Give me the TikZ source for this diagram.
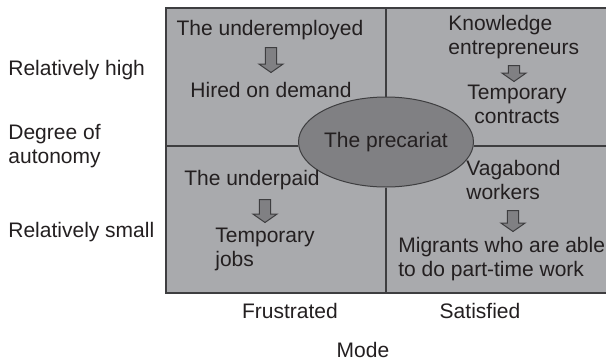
\documentclass[tikz,border=0pt]{standalone}
\usepackage{fontspec}
\setmainfont{Liberation Sans}
\usetikzlibrary{shapes.geometric, shapes.arrows}
\definecolor{cellgray}{RGB}{169,170,173}
\definecolor{coregray}{RGB}{128,128,131}
\definecolor{inkgray}{RGB}{35,31,32}
\definecolor{linegray}{RGB}{62,62,64}
\tikzset {
    every node/.style={text=inkgray, inner sep=0pt, font=\fontsize{10.5}{12}\selectfont},
    txt/.style={align=left, anchor=north west},
    downarrow/.style={single arrow, rotate=-90, anchor=tail, draw=linegray, line width=0.5pt,
        fill=coregray, inner xsep=0pt, inner ysep=2.6pt, single arrow head extend=3.2pt,
        single arrow tip angle=110},
    core/.style={ellipse, draw=linegray, line width=0.5pt, fill=coregray,
        minimum width=73pt, minimum height=45pt},
    grid/.style={draw=linegray, line width=0.6pt}
}

\begin{document}
\begin{tikzpicture}[x=0.5pt, y=-0.5pt]
                        \useasboundingbox (0,0) rectangle (606,360);
                        \fill[cellgray] (166,8) rectangle (606,293);

                        \coordinate (nw) at (166,8);
                        \coordinate (ne) at (606,8);
                        \coordinate (sw) at (166,293);
                        \coordinate (se) at (606,293);
                        \coordinate (n) at (386,8);
                        \coordinate (s) at (386,293);
                        \coordinate (w) at (166,146);
                        \coordinate (e) at (606,146);

                        \node[core] (prec) at (386,142) {The precariat};

                        \draw[grid] (n) -- (prec) (prec) -- (s);
                        \draw[grid] (w) -- (w -| prec.west) (e -| prec.east) -- (e);
                        \draw[grid, line width=0.9pt] (ne) -- (nw) -- (sw) -- (se);

                        % quadrants
                        \node[anchor=base] (under) at (270,35) {The underemployed};
                        \node[anchor=base] (hired) at (271,97) {Hired on demand};
                        \node[txt] (know) at (448,15) {Knowledge\\entrepreneurs};
                        \node[align=center, anchor=north] (tempc) at (517,85) {Temporary\\contracts};
                        \node[anchor=base] (underp) at (252,185) {The underpaid};
                        \node[txt] (tempj) at (215,228) {Temporary\\jobs};
                        \node[txt] (vaga) at (466,160) {Vagabond\\workers};
                        \node[txt] (migr) at (398,237) {Migrants who are able\\to do part-time work};

                        \node[downarrow, minimum height=12.5pt] (a1) at (271,47) {};
                        \node[downarrow, minimum height=8pt] (a2) at (514,65) {};
                        \node[downarrow, minimum height=11.5pt] (a3) at (265,199) {};
                        \node[downarrow, minimum height=10.5pt] (a4) at (513,210) {};

                        % axes
                        \node[anchor=base west] (high) at (8,75) {Relatively high};
                        \node[txt] (degree) at (8,124) {Degree of\\autonomy};
                        \node[anchor=base west] (small) at (8,237) {Relatively small};
                        \node[anchor=base] (frus) at (290,318) {Frustrated};
                        \node[anchor=base] (sat) at (480,318) {Satisfied};
                        \node[anchor=base] (mode) at (363,357) {Mode};
                    \end{tikzpicture}
\end{document}
